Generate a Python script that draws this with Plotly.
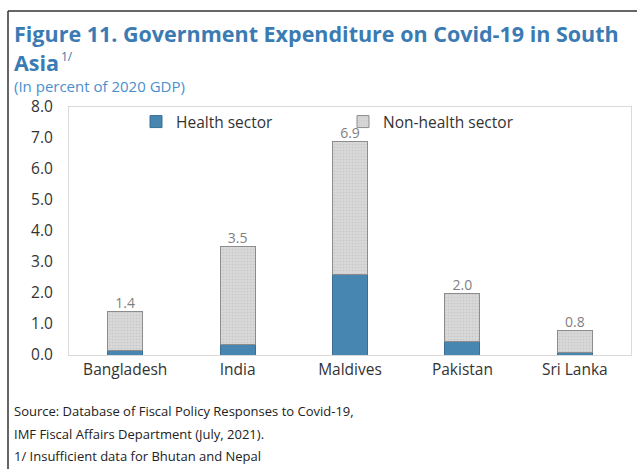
import plotly.graph_objects as go

countries = ["Bangladesh", "India", "Maldives", "Pakistan", "Sri Lanka"]
totals = [1.4, 3.5, 6.9, 2.0, 0.8]
health = [0.13, 0.35, 2.6, 0.42, 0.08]
non_health = [round(t - h, 2) for t, h in zip(totals, health)]
total_labels = ["1.4", "3.5", "6.9", "2.0", "0.8"]
y_ticks = [0, 1, 2, 3, 4, 5, 6, 7, 8]

W, H = 637, 469
L, R, T, B = 69, 6, 107, 114
pw, ph = W - L - R, H - T - B

def px(x):
    return (x - L) / pw

def py(y):
    return (H - B - y) / ph

FONT = "Open Sans"

fig = go.Figure()
fig.add_trace(go.Bar(
    x=countries, y=health, name="Health sector", legend="legend",
    marker=dict(color="#4886b2", line=dict(color="#3a6f95", width=1)),
))
fig.add_trace(go.Bar(
    x=countries, y=non_health, name="Non-health sector", legend="legend2",
    marker=dict(color="#d3d3d3", line=dict(color="#8c8c8c", width=1),
                pattern=dict(shape=".", size=3, solidity=0.25, fgcolor="#b5b5b5", bgcolor="#d8d8d8")),
))
fig.add_trace(go.Scatter(
    x=countries, y=totals, mode="text", text=total_labels,
    textposition="top center", textfont=dict(color="#7f7f7f", size=14, family=FONT),
    showlegend=False, hoverinfo="skip",
))

leg_common = dict(xanchor="left", yanchor="middle", font=dict(size=15.5, color="#333333"),
                  bgcolor="rgba(0,0,0,0)", itemwidth=30)

fig.update_layout(
    width=W, height=H,
    margin=dict(l=L, r=R, t=T, b=B),
    barmode="stack", bargap=0.69,
    plot_bgcolor="white", paper_bgcolor="white",
    font=dict(family=FONT, color="#333333", size=14),
    showlegend=True,
    legend=dict(x=px(136), y=py(122), **leg_common),
    legend2=dict(x=px(343), y=py(122), **leg_common),
    xaxis=dict(showline=True, linecolor="#d9d9d9", mirror=True, ticks="",
               tickfont=dict(size=15.5, color="#333333")),
    yaxis=dict(range=[0, 8], tickvals=y_ticks, tickformat=".1f", showgrid=False,
               showline=True, linecolor="#d9d9d9", mirror=True, ticks="",
               tickfont=dict(size=15.5, color="#333333"), ticklabelstandoff=12, zeroline=False),
)

annos = [
    dict(text="<b>Figure 11. Government Expenditure on Covid-19 in South</b>", x=px(12), y=py(33),
         font=dict(size=21.5, color="#3b7bb3")),
    dict(text="<b>Asia</b>", x=px(12), y=py(62), font=dict(size=21.5, color="#3b7bb3")),
    dict(text="1/", x=px(59), y=py(56), font=dict(size=12, color="#3b7bb3")),
    dict(text="(In percent of 2020 GDP)", x=px(12), y=py(86), font=dict(size=15, color="#4a8fcc")),
    dict(text="Source: Database of Fiscal Policy Responses to Covid-19,", x=px(12), y=py(411),
         font=dict(size=13, color="#222222")),
    dict(text="IMF Fiscal Affairs Department (July, 2021).", x=px(12), y=py(434),
         font=dict(size=13, color="#222222")),
    dict(text="1/ Insufficient data for Bhutan and Nepal", x=px(12), y=py(456),
         font=dict(size=13, color="#222222")),
]
for a in annos:
    fig.add_annotation(xref="paper", yref="paper", xanchor="left", yanchor="middle",
                       showarrow=False, **a)

fig.add_shape(type="line", xref="paper", yref="paper", x0=px(8), x1=px(8), y0=py(11), y1=py(469),
              line=dict(color="#333333", width=1.5))
fig.add_shape(type="line", xref="paper", yref="paper", x0=px(8), x1=px(637), y0=py(11), y1=py(11),
              line=dict(color="#333333", width=1.5))

fig.write_html("out.html", config={"displayModeBar": False},
               post_script="document.body.style.margin='0';document.body.style.padding='0';")
